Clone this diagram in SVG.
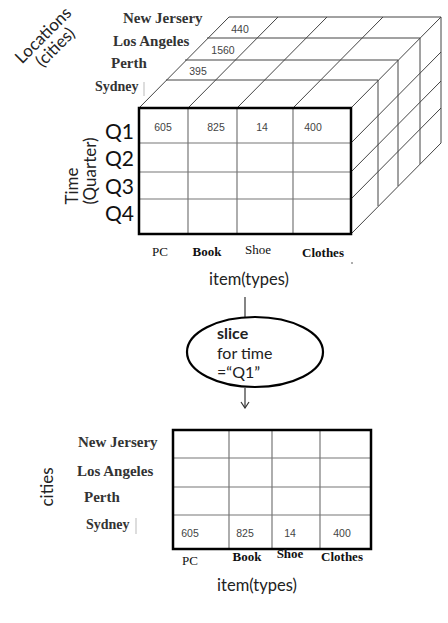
<svg xmlns="http://www.w3.org/2000/svg" width="448" height="623" viewBox="0 0 448 623">
<style>
.city{font-family:"Liberation Serif",serif;font-weight:bold;font-size:15px;fill:#333}
.col{font-family:"Liberation Serif",serif;font-size:13px;fill:#111;text-anchor:middle}
.b{font-weight:bold}
.val{font-family:"Liberation Sans",sans-serif;font-size:10.5px;fill:#444;text-anchor:middle}
.sans{font-family:Lato,"Open Sans",sans-serif;fill:#222}
.q{font-family:Lato,"Open Sans",sans-serif;font-size:21px;fill:#111}
.frame{fill:none;stroke:#000;stroke-width:2.5}
.grid{stroke:#777;stroke-width:1.2;fill:none}
.iso{stroke:#444;stroke-width:1;fill:none}
.tick{stroke:#bbb;stroke-width:1}
</style>
<defs>
<marker id="open" viewBox="0 0 10 10" refX="9" refY="5" markerWidth="10" markerHeight="10" orient="auto" markerUnits="userSpaceOnUse">
<path d="M3,1 L9,5 L3,9" fill="none" stroke="#333" stroke-width="1.2"/>
</marker>
</defs>

<g id="cube">
<g id="cube-top" class="iso">
<line x1="166" y1="80" x2="378" y2="80"/>
<line x1="185" y1="60" x2="398" y2="60"/>
<line x1="207" y1="38" x2="420" y2="38"/>
<line x1="229" y1="17" x2="441" y2="17"/>
<line x1="139" y1="108" x2="229" y2="17"/>
<line x1="188" y1="108" x2="278" y2="17"/>
<line x1="237" y1="108" x2="327" y2="17"/>
<line x1="293" y1="108" x2="383" y2="17"/>
<line x1="351" y1="108" x2="441" y2="17"/>
</g>
<g id="cube-right" class="iso">
<line x1="378" y1="80" x2="378" y2="206"/>
<line x1="398" y1="60" x2="398" y2="186"/>
<line x1="420" y1="38" x2="420" y2="164"/>
<line x1="441" y1="17" x2="441" y2="143"/>
<line x1="351" y1="143" x2="441" y2="52"/>
<line x1="351" y1="172" x2="441" y2="81"/>
<line x1="351" y1="199" x2="441" y2="108"/>
<line x1="351" y1="234" x2="441" y2="143"/>
</g>
<g id="cube-front">
<g class="grid">
<line x1="188" y1="108" x2="188" y2="234"/>
<line x1="237" y1="108" x2="237" y2="234"/>
<line x1="293" y1="108" x2="293" y2="234"/>
<line x1="139" y1="143" x2="351" y2="143"/>
<line x1="139" y1="172" x2="351" y2="172"/>
<line x1="139" y1="199" x2="351" y2="199"/>
</g>
<rect class="frame" x="139" y="108" width="212" height="126"/>
</g>
<g id="cube-values">
<text class="val" x="240" y="33">440</text>
<text class="val" x="223" y="54">1560</text>
<text class="val" x="198" y="75">395</text>
<text class="val" x="163" y="131">605</text>
<text class="val" x="216" y="131">825</text>
<text class="val" x="262" y="131">14</text>
<text class="val" x="313" y="131">400</text>
</g>
</g>

<g id="cube-labels">
<text class="city" x="123" y="23">New Jersery</text>
<text class="city" x="113" y="46">Los Angeles</text>
<text class="city" x="111" y="68">Perth</text>
<text class="city" x="95" y="91" style="font-size:14px">Sydney</text>
<line class="tick" x1="144" y1="82" x2="144" y2="96"/>
<g class="sans" font-size="17" text-anchor="middle">
<text transform="translate(43,35) rotate(-45)" y="6">Locations</text>
<text transform="translate(55,47) rotate(-45)" y="6">(cities)</text>
<text transform="translate(72,186) rotate(-90)" y="6">Time</text>
<text transform="translate(90,171) rotate(-90)" y="6">(Quarter)</text>
</g>
<text class="q" x="105" y="139">Q1</text>
<text class="q" x="105" y="166">Q2</text>
<text class="q" x="105" y="194">Q3</text>
<text class="q" x="105" y="221">Q4</text>
<text class="col" x="160" y="256">PC</text>
<text class="col b" x="207" y="256">Book</text>
<text class="col" x="258" y="254">Shoe</text>
<text class="col b" x="323" y="257">Clothes</text>
<circle cx="352" cy="263" r="0.8" fill="#444"/>
<text class="sans" x="249" y="285" font-size="16.5" text-anchor="middle">item(types)</text>
</g>

<g id="connectors">
<line x1="245" y1="297" x2="245" y2="318" stroke="#333" stroke-width="1.2"/>
<line x1="245" y1="388" x2="245" y2="408" stroke="#333" stroke-width="1.2" marker-end="url(#open)"/>
</g>

<g id="slice">
<ellipse cx="255" cy="352" rx="68" ry="35" fill="#fff" stroke="#000" stroke-width="2.2"/>
<text class="sans" x="217" y="339" font-size="16" font-weight="bold">slice</text>
<text class="sans" x="217" y="359" font-size="16">for time</text>
<text class="sans" x="217" y="378" font-size="16">=“Q1”</text>
</g>

<g id="slice-table">
<g class="grid">
<line x1="229" y1="430" x2="229" y2="549"/>
<line x1="272" y1="430" x2="272" y2="549"/>
<line x1="320" y1="430" x2="320" y2="549"/>
<line x1="173" y1="458" x2="371" y2="458"/>
<line x1="173" y1="487" x2="371" y2="487"/>
<line x1="173" y1="515" x2="371" y2="515"/>
</g>
<rect class="frame" x="173" y="430" width="198" height="119"/>
<text class="val" x="190" y="537">605</text>
<text class="val" x="245" y="537">825</text>
<text class="val" x="290" y="537">14</text>
<text class="val" x="342" y="537">400</text>
</g>

<g id="slice-labels">
<text class="city" x="78" y="447">New Jersery</text>
<text class="city" x="77" y="476">Los Angeles</text>
<text class="city" x="84" y="502">Perth</text>
<text class="city" x="86" y="529" style="font-size:14px">Sydney</text>
<line class="tick" x1="136" y1="518" x2="136" y2="534"/>
<text class="sans" transform="translate(47,487) rotate(-90)" y="6" font-size="17" text-anchor="middle">cities</text>
<text class="col" x="190" y="565">PC</text>
<text class="col b" x="247" y="561">Book</text>
<text class="col b" x="290" y="558">Shoe</text>
<text class="col b" x="342" y="561">Clothes</text>
<text class="sans" x="257" y="591" font-size="16.5" text-anchor="middle">item(types)</text>
</g>
</svg>
